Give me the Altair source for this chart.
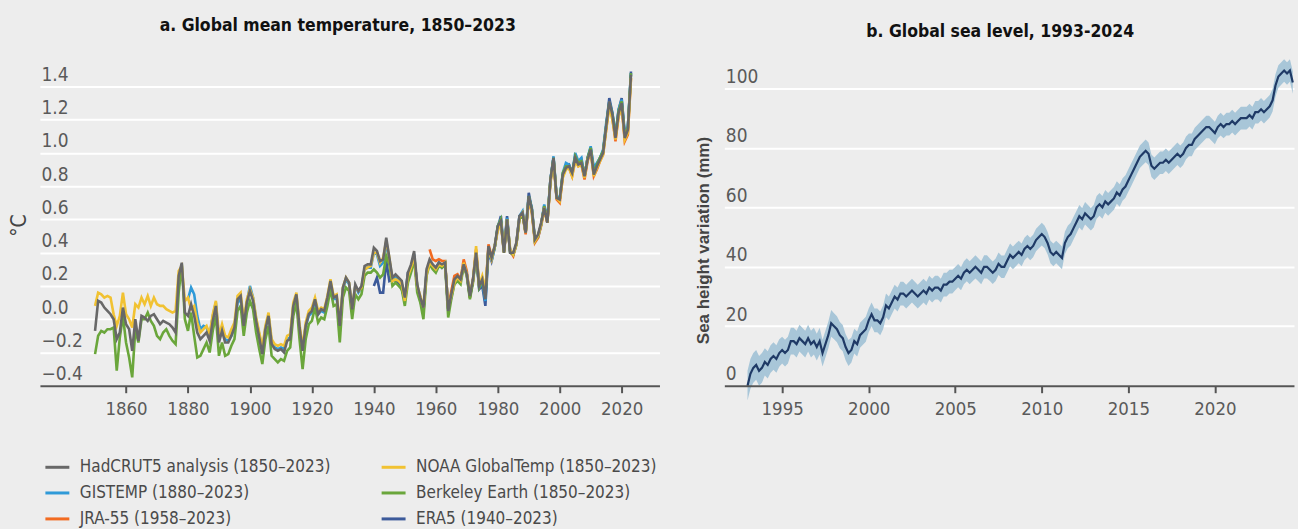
import altair as alt
import pandas as pd

# ---------------------------------------------------------------- panel a data
# Annual global mean temperature anomalies (°C, relative to 1850-1900)
HADCRUT5_START = 1850
HADCRUT5 = [
    -0.07, 0.11, 0.10, 0.07, 0.05, 0.03, 0.00, -0.12, -0.08, 0.07,
    -0.03, -0.06, -0.19, 0.00, -0.13, 0.02, 0.01, -0.01, 0.02, 0.03,
    0.00, -0.03, -0.01, -0.02, -0.03, -0.05, -0.08, 0.26, 0.34, 0.04,
    0.02, 0.09, 0.02, -0.08, -0.12, -0.10, -0.08, -0.13, -0.01, 0.08,
    -0.14, -0.07, -0.14, -0.14, -0.10, -0.05, 0.12, 0.14, -0.04, 0.10,
    0.17, 0.11, -0.01, -0.11, -0.21, -0.06, 0.02, -0.15, -0.18, -0.19,
    -0.18, -0.20, -0.13, -0.12, 0.08, 0.15, -0.05, -0.19, -0.04, 0.03,
    0.05, 0.12, 0.03, 0.06, 0.05, 0.13, 0.23, 0.13, 0.14, -0.04,
    0.19, 0.25, 0.22, 0.06, 0.21, 0.17, 0.20, 0.32, 0.33, 0.33,
    0.43, 0.41, 0.35, 0.36, 0.49, 0.37, 0.25, 0.27, 0.25, 0.23,
    0.13, 0.28, 0.33, 0.41, 0.21, 0.13, 0.07, 0.30, 0.36, 0.33,
    0.31, 0.34, 0.33, 0.34, 0.05, 0.15, 0.24, 0.26, 0.24, 0.33,
    0.27, 0.14, 0.24, 0.40, 0.20, 0.24, 0.12, 0.44, 0.37, 0.44,
    0.56, 0.59, 0.40, 0.60, 0.40, 0.40, 0.46, 0.62, 0.64, 0.52,
    0.74, 0.66, 0.48, 0.51, 0.58, 0.67, 0.58, 0.84, 0.97, 0.73,
    0.72, 0.87, 0.91, 0.92, 0.88, 0.97, 0.93, 0.94, 0.86, 0.96,
    1.02, 0.87, 0.92, 0.96, 1.00, 1.16, 1.31, 1.23, 1.09, 1.24,
    1.30, 1.09, 1.14, 1.47,
]

NOAA_START = 1850
NOAA = [
    0.08, 0.16, 0.15, 0.13, 0.14, 0.13, 0.03, -0.04, 0.02, 0.16,
    0.03, 0.00, -0.05, 0.09, 0.07, 0.13, 0.09, 0.14, 0.08, 0.13,
    0.09, 0.08, 0.08, 0.06, 0.05, 0.04, 0.05, 0.29, 0.32, 0.11,
    0.13, 0.06, 0.08, -0.02, -0.08, -0.06, -0.04, -0.09, 0.03, 0.11,
    -0.10, -0.03, -0.10, -0.11, -0.06, -0.02, 0.14, 0.16, -0.01, 0.12,
    0.18, 0.13, 0.01, -0.08, -0.17, -0.04, 0.04, -0.12, -0.15, -0.16,
    -0.15, -0.16, -0.10, -0.09, 0.10, 0.16, -0.03, -0.17, -0.02, 0.05,
    0.07, 0.13, 0.05, 0.07, 0.06, 0.14, 0.24, 0.14, 0.15, -0.02,
    0.19, 0.25, 0.22, 0.07, 0.20, 0.17, 0.19, 0.30, 0.31, 0.32,
    0.40, 0.40, 0.34, 0.37, 0.47, 0.37, 0.23, 0.24, 0.23, 0.21,
    0.11, 0.26, 0.31, 0.38, 0.20, 0.14, 0.07, 0.27, 0.34, 0.32,
    0.30, 0.33, 0.32, 0.34, 0.07, 0.14, 0.22, 0.25, 0.23, 0.34,
    0.27, 0.16, 0.23, 0.44, 0.20, 0.26, 0.18, 0.42, 0.36, 0.44,
    0.53, 0.58, 0.41, 0.60, 0.42, 0.39, 0.45, 0.61, 0.64, 0.52,
    0.72, 0.65, 0.47, 0.50, 0.57, 0.67, 0.58, 0.83, 0.95, 0.73,
    0.71, 0.85, 0.90, 0.91, 0.86, 0.95, 0.92, 0.93, 0.85, 0.96,
    1.01, 0.86, 0.91, 0.95, 0.99, 1.14, 1.28, 1.20, 1.08, 1.22,
    1.28, 1.08, 1.12, 1.45,
]

GISTEMP_START = 1880
GISTEMP = [
    0.12, 0.19, 0.15, 0.02, -0.06, -0.04, -0.05, -0.10, 0.02, 0.10,
    -0.12, -0.06, -0.12, -0.13, -0.10, -0.05, 0.10, 0.12, -0.03, 0.10,
    0.20, 0.13, 0.00, -0.09, -0.19, -0.05, 0.02, -0.14, -0.17, -0.18,
    -0.17, -0.18, -0.12, -0.11, 0.08, 0.14, -0.06, -0.18, -0.04, 0.02,
    0.04, 0.11, 0.03, 0.05, 0.04, 0.11, 0.21, 0.12, 0.13, -0.05,
    0.18, 0.24, 0.21, 0.05, 0.20, 0.16, 0.19, 0.30, 0.31, 0.31,
    0.40, 0.39, 0.32, 0.34, 0.46, 0.35, 0.24, 0.25, 0.24, 0.21,
    0.12, 0.26, 0.31, 0.39, 0.19, 0.12, 0.05, 0.28, 0.34, 0.31,
    0.30, 0.34, 0.32, 0.34, 0.06, 0.13, 0.22, 0.25, 0.23, 0.33,
    0.27, 0.14, 0.23, 0.40, 0.19, 0.22, 0.11, 0.42, 0.35, 0.43,
    0.56, 0.60, 0.41, 0.61, 0.41, 0.39, 0.45, 0.62, 0.65, 0.52,
    0.74, 0.67, 0.48, 0.50, 0.57, 0.69, 0.60, 0.84, 0.98, 0.74,
    0.73, 0.88, 0.94, 0.93, 0.87, 1.00, 0.95, 0.97, 0.86, 0.97,
    1.04, 0.91, 0.94, 0.97, 1.02, 1.18, 1.31, 1.24, 1.11, 1.26,
    1.32, 1.12, 1.16, 1.48,
]

BERKELEY_START = 1850
BERKELEY = [
    -0.21, -0.10, -0.07, -0.08, -0.06, -0.06, -0.05, -0.31, -0.11, 0.02,
    -0.14, -0.23, -0.35, -0.06, -0.14, 0.00, 0.00, 0.04, -0.01, -0.04,
    -0.10, -0.12, -0.08, -0.06, -0.10, -0.13, -0.15, 0.16, 0.33, 0.00,
    -0.07, 0.04, -0.10, -0.23, -0.22, -0.18, -0.14, -0.20, -0.07, 0.02,
    -0.22, -0.14, -0.22, -0.21, -0.16, -0.12, 0.05, 0.08, -0.10, 0.04,
    0.11, 0.06, -0.08, -0.18, -0.27, -0.12, -0.04, -0.22, -0.24, -0.26,
    -0.24, -0.25, -0.19, -0.17, 0.02, 0.10, -0.12, -0.30, -0.12, -0.03,
    -0.01, 0.07, -0.02, 0.01, 0.00, 0.08, 0.18, 0.08, 0.09, -0.14,
    0.13, 0.19, 0.17, 0.00, 0.15, 0.12, 0.15, 0.26, 0.28, 0.28,
    0.30, 0.28, 0.25, 0.27, 0.38, 0.33, 0.20, 0.22, 0.20, 0.18,
    0.08, 0.22, 0.28, 0.36, 0.16, 0.10, 0.00, 0.26, 0.33, 0.30,
    0.28, 0.32, 0.31, 0.33, 0.01, 0.12, 0.21, 0.23, 0.21, 0.32,
    0.26, 0.12, 0.22, 0.39, 0.19, 0.23, 0.14, 0.43, 0.37, 0.43,
    0.56, 0.60, 0.40, 0.60, 0.40, 0.39, 0.45, 0.60, 0.63, 0.52,
    0.74, 0.66, 0.47, 0.50, 0.57, 0.68, 0.59, 0.83, 0.97, 0.73,
    0.72, 0.88, 0.92, 0.92, 0.88, 0.98, 0.94, 0.95, 0.86, 0.97,
    1.03, 0.88, 0.93, 0.97, 1.01, 1.16, 1.30, 1.23, 1.10, 1.25,
    1.31, 1.10, 1.15, 1.48,
]

JRA55_START = 1958
JRA55 = [
    0.42, 0.36,
    0.35, 0.36, 0.35, 0.35, 0.06, 0.17, 0.26, 0.27, 0.24, 0.36,
    0.29, 0.13, 0.24, 0.42, 0.20, 0.23, 0.15, 0.45, 0.38, 0.43,
    0.55, 0.58, 0.40, 0.58, 0.41, 0.38, 0.45, 0.61, 0.63, 0.51,
    0.72, 0.64, 0.46, 0.49, 0.56, 0.66, 0.58, 0.82, 0.96, 0.72,
    0.70, 0.86, 0.91, 0.91, 0.86, 0.96, 0.92, 0.93, 0.84, 0.95,
    1.01, 0.86, 0.90, 0.95, 0.99, 1.14, 1.29, 1.21, 1.07, 1.22,
    1.28, 1.07, 1.11, 1.45,
]

ERA5_START = 1940
ERA5 = [
    0.20, 0.25, 0.16, 0.16, 0.35, 0.23, 0.24, 0.23, 0.22, 0.18,
    0.12, 0.28, 0.29, 0.38, 0.20, 0.11, 0.04, 0.28, 0.34, 0.31,
    0.31, 0.34, 0.31, 0.33, 0.07, 0.15, 0.23, 0.25, 0.23, 0.33,
    0.27, 0.13, 0.23, 0.40, 0.18, 0.20, 0.08, 0.41, 0.35, 0.43,
    0.55, 0.62, 0.41, 0.62, 0.40, 0.39, 0.45, 0.62, 0.64, 0.52,
    0.76, 0.66, 0.47, 0.49, 0.57, 0.68, 0.58, 0.84, 0.97, 0.73,
    0.72, 0.87, 0.92, 0.93, 0.88, 0.98, 0.94, 0.96, 0.86, 0.97,
    1.03, 0.90, 0.93, 0.97, 1.01, 1.16, 1.33, 1.24, 1.10, 1.26,
    1.33, 1.10, 1.15, 1.49,
]

# legend order: first column top to bottom, then second column
DATASET_NAMES = [
    "HadCRUT5 analysis (1850–2023)",
    "GISTEMP (1880–2023)",
    "JRA-55 (1958–2023)",
    "NOAA GlobalTemp (1850–2023)",
    "Berkeley Earth (1850–2023)",
    "ERA5 (1940–2023)",
]
DATASET_COLORS = ["#686868", "#2f9ad8", "#f26b21", "#f1c232", "#6aa63b", "#3c5a9a"]
DATASET_VALUES = [
    (HADCRUT5_START, HADCRUT5),
    (GISTEMP_START, GISTEMP),
    (JRA55_START, JRA55),
    (NOAA_START, NOAA),
    (BERKELEY_START, BERKELEY),
    (ERA5_START, ERA5),
]
# drawing order, bottom to top
DRAW_ORDER = [5, 2, 1, 4, 3, 0]

TEMP_TICKS = [-0.4, -0.2, 0.0, 0.2, 0.4, 0.6, 0.8, 1.0, 1.2, 1.4]
YEAR_TICKS_A = [1860, 1880, 1900, 1920, 1940, 1960, 1980, 2000, 2020]

# ---------------------------------------------------------------- panel b data
# Global mean sea level (mm), six values per year from 1993.0
SEA_START = 1993.0
SEA_PER_YEAR = 6
SEA_LEVEL = [
    0, 4, 6, 7, 5, 6,
    8, 7, 9, 10, 9, 11,
    12, 11, 12, 15, 15, 14,
    16, 15, 14, 16, 14, 15,
    13, 15, 11, 14, 17, 21,
    20, 19, 17, 16, 13, 11,
    12, 15, 14, 17, 18, 19,
    22, 24, 22, 22, 21, 23,
    27, 26, 28, 30, 29, 31,
    31, 30, 31, 32, 31, 30,
    31, 32, 31, 33, 32, 33,
    33, 32, 34, 34, 35, 35,
    36, 37, 36, 38, 39, 38,
    39, 40, 39, 38, 40, 40,
    39, 38, 39, 41, 40, 40,
    42, 44, 43, 44, 45, 44,
    46, 47, 46, 47, 49, 50,
    51, 50, 48, 45, 44, 45,
    44, 43, 48, 50, 51, 53,
    55, 57, 56, 58, 57, 56,
    57, 60, 61, 60, 62, 61,
    62, 63, 65, 64, 66, 67,
    69, 71, 73, 75, 77, 78,
    79, 78, 74, 73, 74, 75,
    75, 76, 75, 76, 77, 78,
    77, 78, 80, 81, 81, 83,
    84, 85, 86, 87, 87, 86,
    85, 87, 88, 87, 88, 88,
    89, 88, 89, 90, 90, 90,
    91, 90, 92, 92, 93, 92,
    93, 94, 96, 101, 104, 105,
    106, 105, 106, 102,
]
# half-width of the uncertainty envelope (mm), one value per calendar year 1993-2024
SEA_UNCERTAINTY = [
    5.0, 4.6, 4.5, 4.5, 4.5, 4.4, 4.2, 4.0, 4.0, 4.0, 4.0, 4.0, 3.9, 3.9, 3.8, 3.8,
    3.8, 3.8, 3.8, 3.8, 3.8, 3.8, 3.8, 3.8, 3.8, 3.8, 3.8, 3.8, 3.8, 3.8, 3.8, 3.8,
]
SEA_TICKS = [0, 20, 40, 60, 80, 100]
YEAR_TICKS_B = [1995, 2000, 2005, 2010, 2015, 2020]

# ---------------------------------------------------------------- tables
temp_rows = []
for name, (start, values) in zip(DATASET_NAMES, DATASET_VALUES):
    for i, v in enumerate(values):
        temp_rows.append({"dataset": name, "year": start + i, "anomaly": v})
temp_df = pd.DataFrame(temp_rows)

sea_rows = []
for i, v in enumerate(SEA_LEVEL):
    t = SEA_START + i / SEA_PER_YEAR
    u = SEA_UNCERTAINTY[min(int(t) - 1993, len(SEA_UNCERTAINTY) - 1)]
    sea_rows.append({"t": t, "level": v, "lo": v - u, "hi": v + u})
sea_df = pd.DataFrame(sea_rows)

# ---------------------------------------------------------------- styling
NARROW = "Noto Sans Condensed, DejaVu Sans Condensed, Roboto Condensed, Roboto, sans-serif"
BG = "#ededed"
AXIS_GREY = "#555555"
LABEL_GREY = "#5a5a5a"
PLOT_H = 329


def value_axis(ticks, fmt, title, title_x, title_y, title_font, title_size, title_weight):
    return alt.Axis(
        values=ticks, format=fmt, title=title,
        grid=True, gridColor="white", gridWidth=2,
        domain=False, ticks=False, tickSize=0,
        labelAlign="left", labelBaseline="alphabetic", labelPadding=-1,
        labelOffset=-6, labelFlush=False,
        labelFont=NARROW, labelFontSize=19, labelColor=LABEL_GREY,
        titleX=title_x, titleY=title_y, titleAngle=270,
        titleFont=title_font, titleFontSize=title_size, titleFontWeight=title_weight,
        titleColor="#444444",
    )


def year_axis(ticks):
    return alt.Axis(
        values=ticks, format="d", title=None, grid=False,
        domainColor=AXIS_GREY, domainWidth=2,
        tickColor=AXIS_GREY, tickWidth=2, tickSize=7,
        labelFont=NARROW, labelFontSize=18.5, labelColor=LABEL_GREY,
        labelPadding=7, labelFlush=False, zindex=1,
    )


# ---------------------------------------------------------------- panel a
color_scale = alt.Scale(domain=DATASET_NAMES, range=DATASET_COLORS)
legend = alt.Legend(
    title=None, orient="none", legendX=4, legendY=397,
    columns=2, columnPadding=44, rowPadding=4, padding=0,
    symbolType="stroke", symbolSize=576, symbolStrokeWidth=3,
    labelFont=NARROW, labelFontSize=17, labelColor="#4a4a4a",
    labelOffset=9, labelLimit=400,
)

x_a = alt.X("year:Q", scale=alt.Scale(domain=[1832.2, 2032.2], nice=False, zero=False),
            axis=year_axis(YEAR_TICKS_A))
y_a = alt.Y("anomaly:Q", scale=alt.Scale(domain=[-0.4, 1.574], nice=False, zero=False),
            axis=value_axis(TEMP_TICKS, ".1f", "°C", -10, 168, NARROW, 21, "normal"))

temp_layers = []
for idx in DRAW_ORDER:
    temp_layers.append(
        alt.Chart(temp_df)
        .transform_filter(alt.datum.dataset == DATASET_NAMES[idx])
        .mark_line(strokeWidth=2.6)
        .encode(x=x_a, y=y_a,
                color=alt.Color("dataset:N", scale=color_scale, legend=legend))
    )

panel_a = alt.layer(*temp_layers).properties(
    width=621, height=PLOT_H,
    title=alt.TitleParams(
        "a. Global mean temperature, 1850–2023", font=NARROW, fontSize=17.5,
        fontWeight="bold", color="#111111", anchor="middle", frame="group",
        dx=-12, offset=23,
    ),
)

# ---------------------------------------------------------------- panel b
x_b = alt.X("t:Q", scale=alt.Scale(domain=[1991.66, 2024.57], nice=False, zero=False),
            axis=year_axis(YEAR_TICKS_B))
y_b_scale = alt.Scale(domain=[0, 110.4], nice=False, zero=False)

band = alt.Chart(sea_df).mark_area(color="#a8c6d8").encode(
    x=x_b,
    y=alt.Y("lo:Q", scale=y_b_scale,
            axis=value_axis(SEA_TICKS, "d", "Sea height variation (mm)", -12, 183,
                            "Liberation Sans", 17, "bold")),
    y2="hi:Q",
)
sea_line = alt.Chart(sea_df).mark_line(color="#1f3a66", strokeWidth=2.2).encode(
    x=x_b, y=alt.Y("level:Q", scale=y_b_scale),
)

panel_b = alt.layer(band, sea_line).properties(
    width=571, height=PLOT_H,
    title=alt.TitleParams(
        "b. Global sea level, 1993-2024", font=NARROW, fontSize=17.5,
        fontWeight="bold", color="#111111", anchor="middle", frame="group",
        dx=-9, offset=17,
    ),
)

chart = (
    alt.hconcat(panel_a, panel_b, spacing=65, bounds="flush")
    .resolve_scale(color="independent")
    .configure(background=BG, padding={"left": 8, "top": 16, "right": 0, "bottom": 0})
    .configure_view(stroke="transparent")
)

chart.save("out.html", embed_options={"renderer": "svg", "actions": False})
